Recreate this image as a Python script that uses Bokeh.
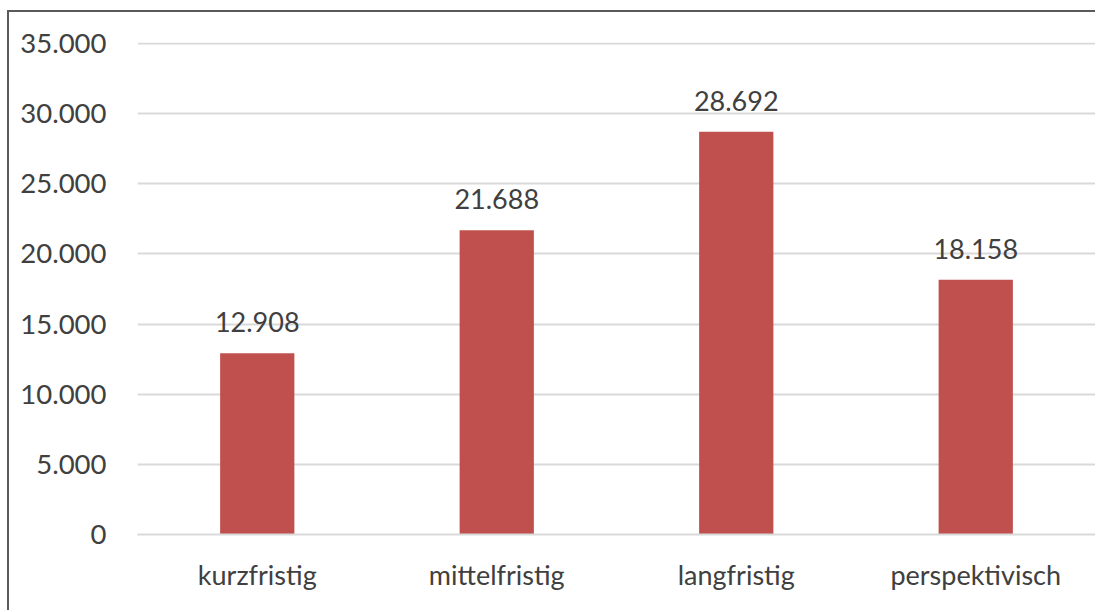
from bokeh.plotting import figure
from bokeh.models import ColumnDataSource, Range1d, FixedTicker
from bokeh.core.properties import value
from bokeh.embed import file_html
from bokeh.resources import INLINE

categories = ["kurzfristig", "mittelfristig", "langfristig", "perspektivisch"]
values = [12908, 21688, 28692, 18158]
y_ticks = [0, 5000, 10000, 15000, 20000, 25000, 30000, 35000]
y_tick_labels = ["0", "5.000", "10.000", "15.000", "20.000", "25.000", "30.000", "35.000"]
value_labels = ["12.908", "21.688", "28.692", "18.158"]

FONT = "Lato"
TEXT = "#404040"
BAR = "#C0504D"
GRID = "#D9D9D9"

src = ColumnDataSource(dict(cat=categories, val=values, lab=value_labels))

p = figure(
    x_range=categories,
    y_range=Range1d(0, 35060),
    width=1088, height=600,
    output_backend="svg", toolbar_location=None,
    min_border_left=128, min_border_right=2,
    min_border_top=30, min_border_bottom=78,
)
p.styles = {"border-left": "2px solid #5a5a5a", "border-top": "2px solid #5a5a5a",
            "margin-top": "10px", "margin-left": "7px"}
p.outline_line_color = None
p.background_fill_color = "white"
p.border_fill_color = "white"

p.vbar(x="cat", top="val", width=0.31, source=src, color=BAR, line_color=None)
p.text(x="cat", y="val", text="lab", source=src, y_offset=-31,
       text_align="center", text_baseline="alphabetic",
       text_font=value(FONT), text_font_size="27px", text_color=TEXT)

p.xgrid.grid_line_color = None
p.ygrid.grid_line_color = GRID
p.ygrid.grid_line_width = 2
p.ygrid.ticker = FixedTicker(ticks=y_ticks)

p.yaxis.ticker = FixedTicker(ticks=y_ticks)
p.yaxis.major_label_overrides = {t: l for t, l in zip(y_ticks, y_tick_labels)}
p.yaxis.axis_line_color = None
p.yaxis.major_tick_line_color = None
p.yaxis.minor_tick_line_color = None
p.yaxis.major_label_standoff = 25
p.yaxis.major_label_text_font = FONT
p.yaxis.major_label_text_font_size = "27.5px"
p.yaxis.major_label_text_color = TEXT

p.xaxis.axis_line_color = GRID
p.xaxis.axis_line_width = 2
p.xaxis.major_tick_line_color = None
p.xaxis.minor_tick_line_color = None
p.xaxis.major_label_standoff = 17
p.xaxis.major_label_text_font = FONT
p.xaxis.major_label_text_font_size = "27px"
p.xaxis.major_label_text_color = TEXT

open("out.html", "w").write(file_html(p, INLINE))
